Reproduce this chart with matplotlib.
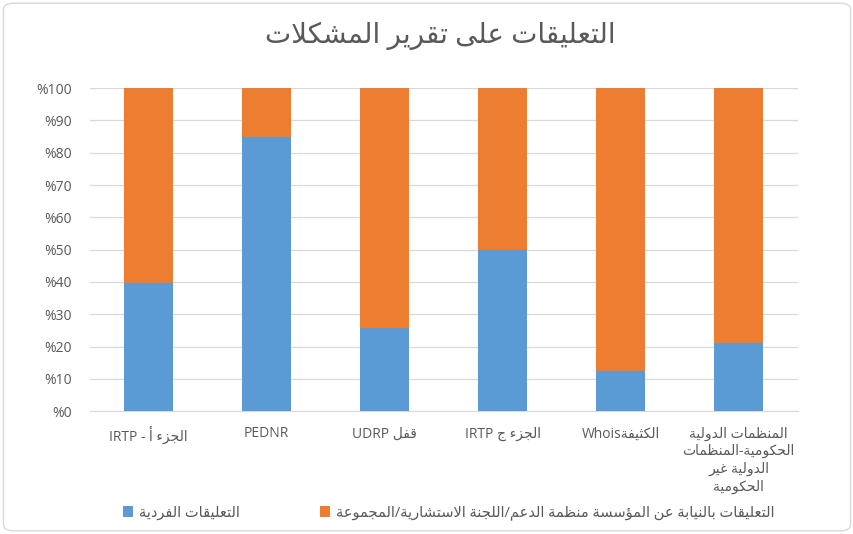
import matplotlib
matplotlib.use('Agg')
import matplotlib.pyplot as plt
from matplotlib.patches import FancyBboxPatch
import numpy as np

plt.rcParams['font.family'] = ['Open Sans', 'DejaVu Sans']

# Arabic presentation forms (iso, fin, ini, med), matplotlib does no shaping itself
DUAL = {'ئ': 0xFE89, 'ب': 0xFE8F, 'ت': 0xFE95, 'ث': 0xFE99, 'ج': 0xFE9D, 'ح': 0xFEA1,
        'خ': 0xFEA5, 'س': 0xFEB1, 'ش': 0xFEB5, 'ص': 0xFEB9, 'ض': 0xFEBD, 'ط': 0xFEC1,
        'ظ': 0xFEC5, 'ع': 0xFEC9, 'غ': 0xFECD, 'ف': 0xFED1, 'ق': 0xFED5, 'ك': 0xFED9,
        'ل': 0xFEDD, 'م': 0xFEE1, 'ن': 0xFEE5, 'ه': 0xFEE9, 'ي': 0xFEF1}
RIGHT = {'آ': 0xFE81, 'أ': 0xFE83, 'ؤ': 0xFE85, 'إ': 0xFE87, 'ا': 0xFE8D, 'ة': 0xFE93,
         'د': 0xFEA9, 'ذ': 0xFEAB, 'ر': 0xFEAD, 'ز': 0xFEAF, 'و': 0xFEED, 'ى': 0xFEEF}
LAM_ALEF = {'آ': 0xFEF5, 'أ': 0xFEF7, 'إ': 0xFEF9, 'ا': 0xFEFB}


def ar(s):
    out = []
    i = 0
    while i < len(s):
        c = s[i]
        prev = s[i - 1] if i > 0 else ''
        nxt = s[i + 1] if i + 1 < len(s) else ''
        cp = prev in DUAL
        if c == 'ل' and nxt in LAM_ALEF:
            out.append(chr(LAM_ALEF[nxt] + (1 if cp else 0)))
            i += 2
            continue
        if c in DUAL:
            cn = nxt in DUAL or nxt in RIGHT
            b = DUAL[c]
            out.append(chr(b + 3 if cp and cn else b + 1 if cp else b + 2 if cn else b))
        elif c in RIGHT:
            out.append(chr(RIGHT[c] + (1 if cp else 0)))
        elif c == 'ء':
            out.append('\uFE80')
        else:
            out.append(c)
        i += 1
    return ''.join(out[::-1])


title = ar('التعليقات على تقرير المشكلات')
categories = [
    'IRTP - ' + ar('الجزء أ'),
    'PEDNR',
    'UDRP ' + ar('قفل'),
    'IRTP ' + ar('الجزء ج'),
    'Whois' + ar('الكثيفة'),
    '\n'.join(ar(l) for l in ['المنظمات الدولية', 'الحكومية-المنظمات', 'الدولية غير', 'الحكومية']),
]
individual = [39.6, 84.8, 25.7, 50.0, 12.4, 21.1]
on_behalf = [60.4, 15.2, 74.3, 50.0, 87.6, 78.9]
series_names = [ar('التعليقات الفردية'),
                ar('التعليقات بالنيابة عن المؤسسة منظمة الدعم/اللجنة الاستشارية/المجموعة')]
y_ticks = [0, 10, 20, 30, 40, 50, 60, 70, 80, 90, 100]

blue = '#5B9BD5'
orange = '#ED7D31'
grey = '#595959'

fig = plt.figure(figsize=(8.54, 5.34), dpi=100)
ax = fig.add_axes([0.105, 0.230, 0.829, 0.605])

x = np.arange(len(categories))
ax.bar(x, individual, 0.41, color=blue, label=series_names[0], zorder=3)
ax.bar(x, on_behalf, 0.41, bottom=individual, color=orange, label=series_names[1], zorder=3)

ax.set_xlim(-0.5, len(categories) - 0.5)
ax.set_ylim(0, 100)
ax.set_yticks(y_ticks)
ax.set_yticklabels(['%' + str(v) for v in y_ticks])
ax.set_xticks(x)
ax.set_xticklabels(categories, linespacing=1.25)
ax.tick_params(axis='y', length=0, pad=13, labelsize=10, labelcolor=grey)
ax.tick_params(axis='x', length=0, pad=11, labelsize=10, labelcolor=grey)
ax.yaxis.grid(True, color='#D9D9D9', linewidth=0.9, zorder=0)
for side in ['top', 'right', 'left']:
    ax.spines[side].set_visible(False)
ax.spines['bottom'].set_color('#D9D9D9')

fig.text(0.516, 0.932, title, ha='center', va='center', fontsize=20, color=grey)

fig.legend(loc='center', bbox_to_anchor=(0.525, 0.039), ncol=2, frameon=False,
           fontsize=10.5, labelcolor=grey, handlelength=0.7, handleheight=0.7,
           handletextpad=0.4, columnspacing=5.5)

fig.patches.append(FancyBboxPatch((0.004, 0.006), 0.992, 0.988,
                                  boxstyle='round,pad=0,rounding_size=0.012',
                                  transform=fig.transFigure, fill=False,
                                  edgecolor='#D9D9D9', linewidth=1))

fig.savefig('out.png', dpi=100)
